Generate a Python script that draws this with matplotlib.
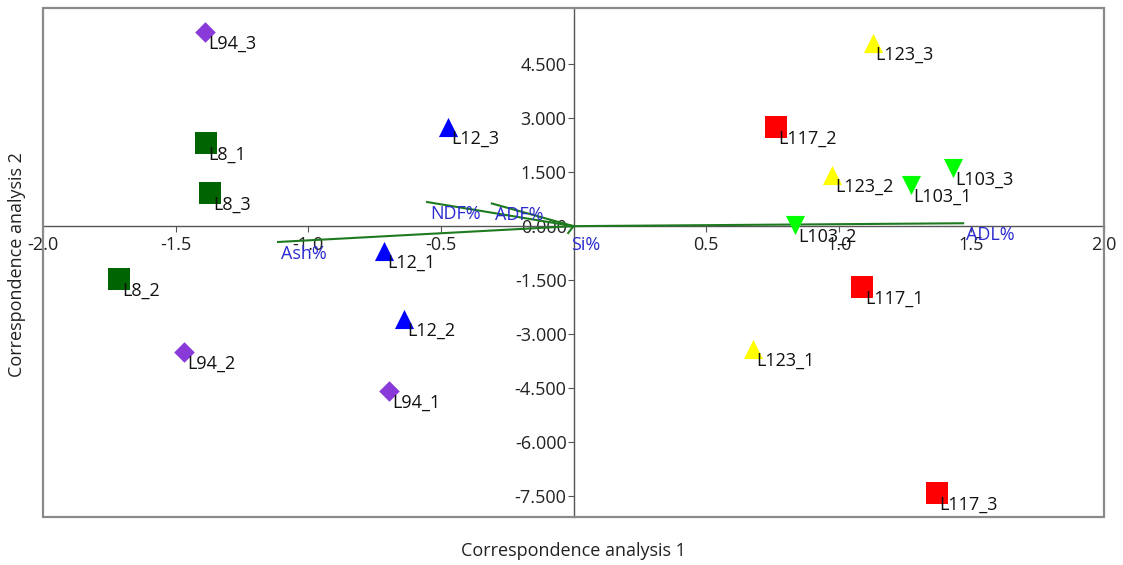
import matplotlib
matplotlib.use("Agg")
import matplotlib.pyplot as plt
from matplotlib.patches import Rectangle

plt.rcParams['font.family'] = ['Open Sans', 'DejaVu Sans']

# Sample scores (CA dimension 1, CA dimension 2), grouped by line
groups = ["L8", "L94", "L12", "L123", "L117", "L103"]
sample_names = {
    "L8": ["L8_1", "L8_2", "L8_3"],
    "L94": ["L94_1", "L94_2", "L94_3"],
    "L12": ["L12_1", "L12_2", "L12_3"],
    "L123": ["L123_1", "L123_2", "L123_3"],
    "L117": ["L117_1", "L117_2", "L117_3"],
    "L103": ["L103_1", "L103_2", "L103_3"],
}
dim1 = {
    "L8": [-1.386, -1.713, -1.370],
    "L94": [-0.695, -1.468, -1.389],
    "L12": [-0.714, -0.639, -0.473],
    "L123": [0.677, 0.975, 1.129],
    "L117": [1.088, 0.763, 1.370],
    "L103": [1.272, 0.835, 1.430],
}
dim2 = {
    "L8": [2.31, -1.47, 0.92],
    "L94": [-4.58, -3.50, 5.39],
    "L12": [-0.69, -2.58, 2.75],
    "L123": [-3.42, 1.42, 5.08],
    "L117": [-1.69, 2.75, -7.42],
    "L103": [1.14, 0.03, 1.61],
}

# Variable vectors
variables = ["Ash%", "NDF%", "ADF%", "Si%", "ADL%"]
var_dim1 = [-1.114, -0.552, -0.308, -0.020, 1.469]
var_dim2 = [-0.44, 0.67, 0.63, -0.19, 0.08]

x_ticks = [-2.0, -1.5, -1.0, -0.5, 0.5, 1.0, 1.5, 2.0]
y_ticks = [-7.5, -6.0, -4.5, -3.0, -1.5, 0.0, 1.5, 3.0, 4.5]

styles = {
    "L8": dict(marker="s", color="#006400", s=230),
    "L94": dict(marker="D", color="#8a3ad8", s=110),
    "L12": dict(marker="^", color="#0000ff", s=190),
    "L123": dict(marker="^", color="#ffff00", s=190),
    "L117": dict(marker="s", color="#ff0000", s=230),
    "L103": dict(marker="v", color="#00ff00", s=190),
}

FS = 13

fig = plt.figure(figsize=(11.23, 5.65), dpi=100)
ax = fig.add_axes([43 / 1123, 1 - 517 / 565, (1104 - 43) / 1123, (517 - 8) / 565])
ax.set_xlim(-2.0, 2.0)
ax.set_ylim(-8.08, 6.06)

# Axes crossing at the origin
for side in ("top", "right"):
    ax.spines[side].set_visible(False)
ax.spines["left"].set_position(("data", 0))
ax.spines["bottom"].set_position(("data", 0))
for side in ("left", "bottom"):
    ax.spines[side].set_color("#555555")
    ax.spines[side].set_linewidth(1.0)

ax.add_patch(Rectangle((0, 0), 1, 1, transform=ax.transAxes, fill=False,
                       edgecolor="#8a8a8a", linewidth=1.6, clip_on=False, zorder=5))

ax.set_xticks(x_ticks)
ax.set_xticklabels([f"{v:.1f}" for v in x_ticks])
ax.set_yticks(y_ticks)
ax.set_yticklabels([f"{v:.3f}" for v in y_ticks])
ax.tick_params(axis="both", direction="out", length=4, width=0.8, colors="#555555",
               labelcolor="#222222", labelsize=FS)
ax.tick_params(axis="x", pad=3)
ax.tick_params(axis="y", pad=1)

# Variable arrows (lines from the origin)
for name, vx, vy in zip(variables, var_dim1, var_dim2):
    ax.plot([0, vx], [0, vy], color="#1e7a1e", linewidth=1.5, zorder=3)
    ax.annotate(name, (vx, vy), xytext=(2, -8.5), textcoords="offset points",
                ha="left", va="center", fontsize=FS, color="#2b2bd0", zorder=6)

# Sample points with labels
for g in groups:
    st = styles[g]
    ax.scatter(dim1[g], dim2[g], marker=st["marker"], color=st["color"], s=st["s"],
               linewidths=0, zorder=4)
    for name, x, y in zip(sample_names[g], dim1[g], dim2[g]):
        ax.annotate(name, (x, y), xytext=(2, -8.5), textcoords="offset points",
                    ha="left", va="center", fontsize=FS, color="#111111", zorder=6)

fig.text(573 / 1123, 1 - 551 / 565, "Correspondence analysis 1", ha="center", va="center",
         fontsize=FS, color="#222222")
fig.text(17 / 1123, 1 - 265 / 565, "Correspondence analysis 2", ha="center", va="center",
         rotation=90, fontsize=FS, color="#222222")

fig.savefig("out.png", dpi=100)
